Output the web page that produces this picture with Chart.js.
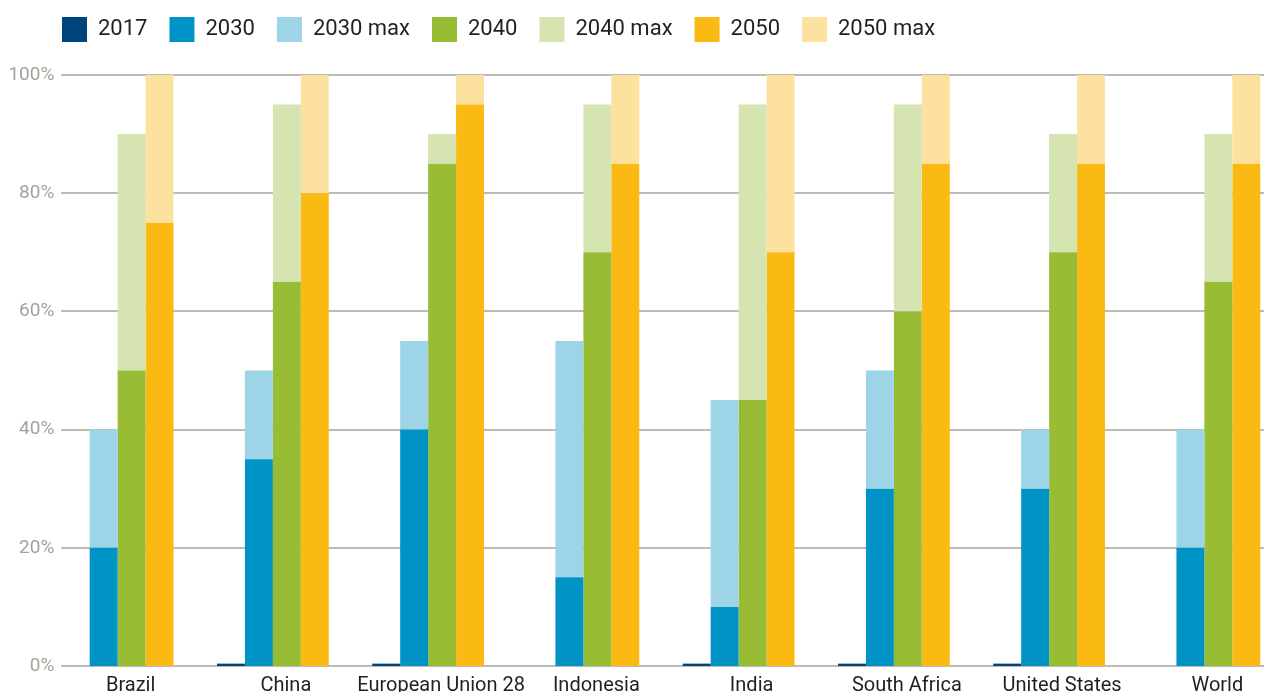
<!DOCTYPE html>
<html>
<head>
<meta charset="utf-8">
<script src="https://cdn.jsdelivr.net/npm/chart.js@4.4.0/dist/chart.umd.min.js"></script>
<style>
  html, body { margin: 0; padding: 0; overflow: hidden; background: #fff; }
  #wrap { width: 1290px; height: 692px; }
</style>
</head>
<body>
<div id="wrap"><canvas id="chart" width="1290" height="692"></canvas></div>
<script>
const countries = ["Brazil", "China", "European Union 28", "Indonesia", "India", "South Africa", "United States", "World"];
const v2017 = [0, 0.4, 0.4, 0, 0.4, 0.4, 0.4, 0];
const v2030 = [20, 35, 40, 15, 10, 30, 30, 20];
const v2030max = [40, 50, 55, 55, 45, 50, 40, 40];
const v2040 = [50, 65, 85, 70, 45, 60, 70, 65];
const v2040max = [90, 95, 90, 95, 95, 95, 90, 90];
const v2050 = [75, 80, 95, 85, 70, 85, 85, 85];
const v2050max = [100, 100, 100, 100, 100, 100, 100, 100];

const FONT = "Roboto, 'DejaVu Sans Condensed', sans-serif";

// "max" series are drawn as the extra slice above the base value
const extra = (max, base) => max.map((m, i) => m - base[i]);

function bar(label, data, color, stack) {
    return { label, data, backgroundColor: color, borderWidth: 0, stack,
             barPercentage: 1, categoryPercentage: 0.72 };
}

// grid lines start to the right of the % labels, like the original
const gridLines = {
    id: 'gridLines',
    beforeDatasetsDraw(chart) {
        const { ctx, chartArea, scales: { y } } = chart;
        ctx.save();
        ctx.strokeStyle = '#a6a59d';
        ctx.lineWidth = 1.5;
        y.ticks.forEach(t => {
            const py = Math.round(y.getPixelForValue(t.value));
            ctx.beginPath();
            ctx.moveTo(chartArea.left + 21, py);
            ctx.lineTo(chartArea.right, py);
            ctx.stroke();
        });
        ctx.restore();
    }
};

// extra gap under the legend
const legendGap = {
    id: 'legendGap',
    beforeInit(chart) {
        const fit = chart.legend.fit;
        chart.legend.fit = function () {
            fit.call(this);
            this.height += 23;
        };
    }
};

const ctx = document.getElementById('chart').getContext('2d');
new Chart(ctx, {
    type: 'bar',
    data: {
        labels: countries,
        datasets: [
            bar('2017', v2017, '#00447c', 's17'),
            bar('2030', v2030, '#0093c6', 's30'),
            bar('2030 max', extra(v2030max, v2030), '#9dd4e8', 's30'),
            bar('2040', v2040, '#98bc34', 's40'),
            bar('2040 max', extra(v2040max, v2040), '#d5e4b0', 's40'),
            bar('2050', v2050, '#fbb914', 's50'),
            bar('2050 max', extra(v2050max, v2050), '#fde29f', 's50')
        ]
    },
    options: {
        responsive: false,
        animation: false,
        layout: { padding: { left: 40, right: 8, top: -5, bottom: 0 } },
        plugins: {
            tooltip: { enabled: false },
            legend: {
                position: 'top',
                align: 'start',
                labels: {
                    boxWidth: 25, boxHeight: 25, padding: 22,
                    color: '#231f20',
                    font: { family: FONT, size: 22 }
                }
            }
        },
        scales: {
            x: {
                stacked: true,
                grid: { display: false },
                border: { display: false },
                ticks: {
                    color: '#231f20',
                    font: { family: FONT, size: 20 },
                    labelOffset: 13,
                    padding: 0,
                    maxRotation: 0,
                    autoSkip: false
                },
                afterFit(s) { s.height = 26; }
            },
            y: {
                stacked: true,
                min: 0,
                max: 100,
                grid: { display: false },
                border: { display: false },
                ticks: {
                    stepSize: 20,
                    mirror: true,
                    crossAlign: 'far',
                    color: '#a3a39a',
                    font: { family: FONT, size: 19 },
                    padding: -31,
                    callback: v => v + '%'
                },
                afterFit(s) { s.width = -0.6; }
            }
        }
    },
    plugins: [gridLines, legendGap]
});
</script>
</body>
</html>
